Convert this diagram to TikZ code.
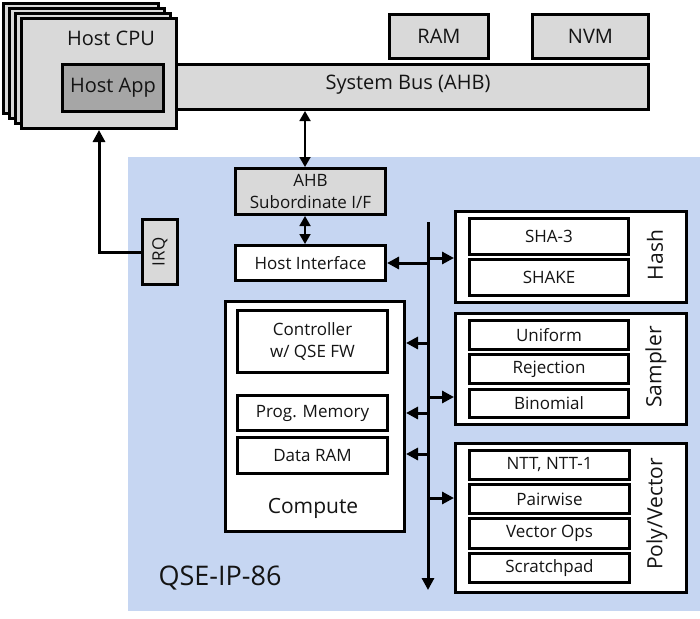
\documentclass[tikz,border=0pt]{standalone}
\usepackage{fontspec}
\setmainfont{Open Sans}
\usetikzlibrary{arrows.meta,positioning}
\definecolor{lgray}{RGB}{217,217,217}
\definecolor{dgray}{RGB}{166,166,166}
\definecolor{bluebg}{RGB}{198,214,242}
\definecolor{txt}{RGB}{20,20,20}
\newcommand{\fsz}[1]{\fontsize{#1}{1.25\dimexpr #1pt\relax}\selectfont}
\tikzset{
  box/.style={draw=black, line width=3pt, inner sep=0pt, text=txt, align=center, anchor=north west},
  gbox/.style={box, fill=lgray},
  wbox/.style={box, fill=white},
  big/.style={font=\fsz{20}},
  med/.style={font=\fsz{17}},
  rot/.style={font=\fsz{21}},
  arr/.style={line width=3pt, -{Triangle[length=12pt,width=12pt]}},
  dbl/.style={line width=1.8pt, {Triangle[length=10pt,width=11pt]}-{Triangle[length=10pt,width=11pt]}},
  lbl/.style={text=txt, inner sep=0pt},
}
\begin{document}
\begin{tikzpicture}[x=1pt,y=-1pt]
\useasboundingbox (0,0) rectangle (700,618);
% blue region
\fill[bluebg] (128,157) rectangle (700,611);
% system bus (drawn under CPU)
\node[gbox, minimum width=477pt, minimum height=45pt] (sbus) at (170,63) {};
\node[lbl, big] (sbusl) at (408,85) {System Bus (AHB)};
% stacked host CPUs
\node[gbox, minimum width=155pt, minimum height=110pt] (cpu3) at (2,2) {};
\node[gbox, minimum width=155pt, minimum height=110pt] (cpu2) at (8,7) {};
\node[gbox, minimum width=155pt, minimum height=110pt] (cpu1) at (14,12) {};
\node[gbox, minimum width=155pt, minimum height=110pt] (cpu) at (20,17) {};
\node[lbl, big] (cpul) at (111,38) {Host CPU};
\node[box, fill=dgray, big, minimum width=101pt, minimum height=47pt] (app) at (61,63) {Host App};
% RAM / NVM
\node[gbox, big, minimum width=99pt, minimum height=44pt] (ram) at (388,13) {RAM};
\node[gbox, big, minimum width=116pt, minimum height=44pt] (nvm) at (531,13) {NVM};
% AHB subordinate and host interface
\node[gbox, med, minimum width=150pt, minimum height=46pt] (ahb) at (234,167) {AHB\\Subordinate I/F};
\node[wbox, med, minimum width=150pt, minimum height=35pt] (hif) at (234,244) {Host Interface};
% IRQ
\node[gbox, minimum width=35pt, minimum height=65pt] (irq) at (141,218) {};
\node[lbl, med, rotate=90] (irql) at (irq.center) {IRQ};
% Hash
\node[wbox, minimum width=231pt, minimum height=91pt] (hash) at (454,210) {};
\node[wbox, med, minimum width=159pt, minimum height=36pt] (sha) at (468,217) {SHA-3};
\node[wbox, med, minimum width=159pt, minimum height=36pt] (shake) at (468,258) {SHAKE};
\node[lbl, rot, rotate=90] (hashl) at (655,255) {Hash};
% Sampler
\node[wbox, minimum width=231pt, minimum height=111pt] (samp) at (454,312) {};
\node[wbox, med, minimum width=159pt, minimum height=29pt] (unif) at (468,319) {Uniform};
\node[wbox, med, minimum width=159pt, minimum height=29pt] (rej) at (468,353) {Rejection};
\node[wbox, med, minimum width=159pt, minimum height=28pt] (bino) at (468,388) {Binomial};
\node[lbl, rot, rotate=90] (sampl) at (656,367) {Sampler};
% Compute
\node[wbox, minimum width=179pt, minimum height=230pt] (comp) at (224,300) {};
\node[wbox, med, minimum width=150pt, minimum height=62pt] (ctrl) at (236,309) {Controller\\w/ QSE FW};
\node[wbox, med, minimum width=150pt, minimum height=35pt] (prog) at (236,394) {Prog. Memory};
\node[wbox, med, minimum width=150pt, minimum height=36pt] (dram) at (236,436) {Data RAM};
\node[lbl, font=\fsz{21}] (compl) at (313,508) {Compute};
% Poly/Vector
\node[wbox, minimum width=231pt, minimum height=149pt] (poly) at (454,442) {};
\node[wbox, med, minimum width=160pt, minimum height=29pt] (ntt) at (468,449) {NTT, NTT-1};
\node[wbox, med, minimum width=160pt, minimum height=29pt] (pair) at (468,483) {Pairwise};
\node[wbox, med, minimum width=160pt, minimum height=30pt] (vops) at (468,517) {Vector Ops};
\node[wbox, med, minimum width=160pt, minimum height=29pt] (scr) at (468,552) {Scratchpad};
\node[lbl, rot, rotate=90] (polyl) at (657,514) {Poly/Vector};
% label
\node[lbl, font=\fsz{27}] (qse) at (220,578) {QSE-IP-86};
% internal bus
\coordinate (btop) at (428,222);
\coordinate (bbot) at (428,590);
\draw[arr] (btop) -- (bbot);
% connectors
\draw[dbl] (sbus.south -| 305,0) -- (ahb.north -| 305,0);
\draw[dbl] (ahb.south -| 305,0) -- (hif.north -| 305,0);
\draw[arr] (irq.west) -| (cpu.south);
\draw[arr] (btop |- 0,263) -- (hif.east |- 0,263);
\draw[arr] (btop |- 0,258) -- (hash.west |- 0,258);
\draw[arr] (btop |- 0,343) -- (comp.east |- 0,343);
\draw[arr] (btop |- 0,397) -- (samp.west |- 0,397);
\draw[arr] (btop |- 0,413) -- (comp.east |- 0,413);
\draw[arr] (btop |- 0,454) -- (comp.east |- 0,454);
\draw[arr] (btop |- 0,498) -- (poly.west |- 0,498);
\end{tikzpicture}
\end{document}
